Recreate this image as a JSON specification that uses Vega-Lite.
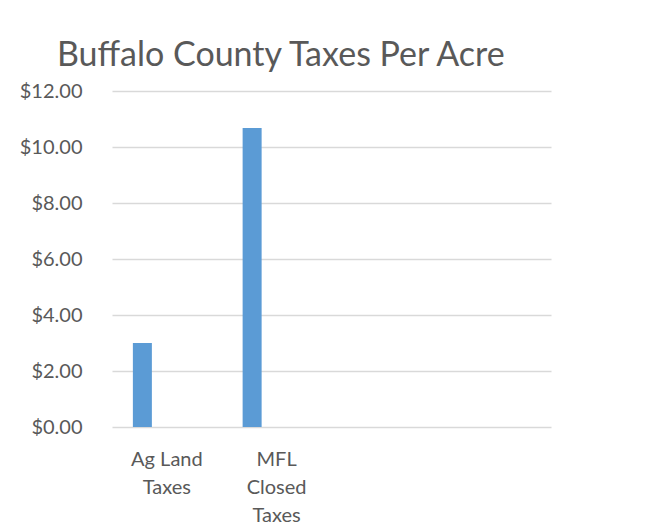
{
  "$schema": "https://vega.github.io/schema/vega-lite/v6.json",
  "autosize": "none",
  "width": 439,
  "height": 336,
  "padding": {"left": 112, "top": 91, "right": 104, "bottom": 98},
  "background": "white",
  "title": {
    "text": "Buffalo County Taxes Per Acre",
    "anchor": "start",
    "frame": "group",
    "dx": -55,
    "font": "Lato",
    "fontSize": 34,
    "fontWeight": "normal",
    "color": "#595959",
    "offset": 8
  },
  "data": {
    "values": [
      {"category": "Ag Land Taxes", "value": 3.0},
      {"category": "MFL Closed Taxes", "value": 10.68}
    ]
  },
  "mark": {"type": "bar", "color": "#5B9BD5", "width": 19, "xOffset": -24.5},
  "encoding": {
    "x": {
      "field": "category",
      "type": "nominal",
      "sort": null,
      "scale": {"domain": ["Ag Land Taxes", "MFL Closed Taxes", " ", "  "], "paddingInner": 0, "paddingOuter": 0},
      "axis": {
        "title": null,
        "labelAngle": 0,
        "ticks": false,
        "domain": false,
        "grid": false,
        "labelFont": "Lato",
        "labelFontSize": 20,
        "labelColor": "#595959",
        "labelPadding": 22,
        "labelLineHeight": 28,
        "labelExpr": "datum.value == 'Ag Land Taxes' ? ['Ag Land', 'Taxes'] : datum.value == 'MFL Closed Taxes' ? ['MFL', 'Closed', 'Taxes'] : ''"
      }
    },
    "y": {
      "field": "value",
      "type": "quantitative",
      "scale": {"domain": [0, 12]},
      "axis": {
        "title": null,
        "values": [0, 2, 4, 6, 8, 10, 12],
        "format": "$.2f",
        "ticks": false,
        "domain": false,
        "grid": true,
        "gridColor": "#D9D9D9",
        "gridWidth": 1.5,
        "labelFont": "Lato",
        "labelFontSize": 20,
        "labelColor": "#595959",
        "labelPadding": 30
      }
    }
  },
  "config": {"view": {"stroke": null}}
}
